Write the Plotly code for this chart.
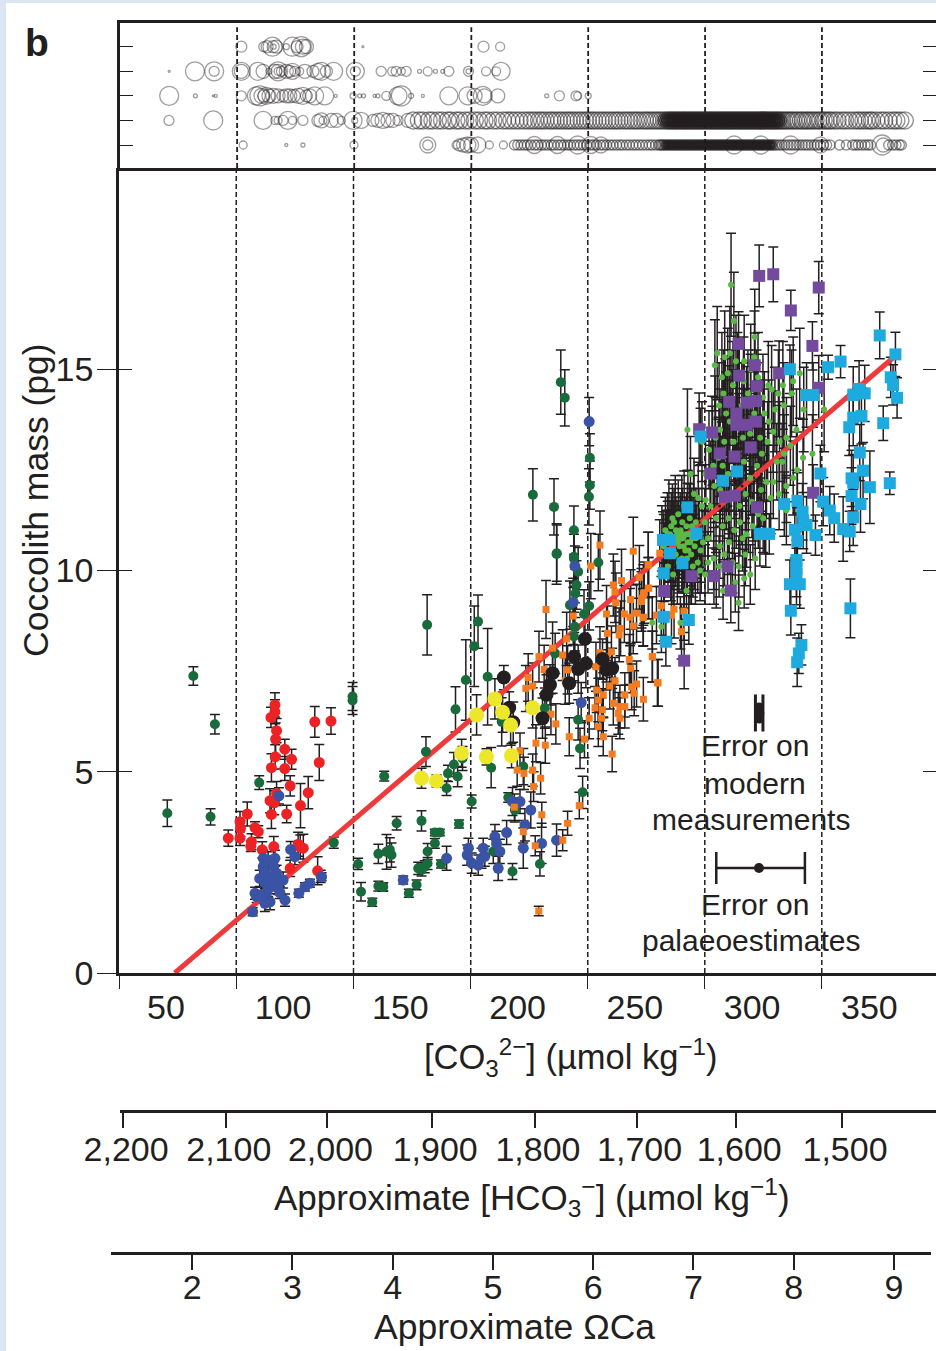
import plotly.graph_objects as go

# ---------- top panel: bubble rows (x = [CO3], s = bubble diameter) ----------
row5_x = [81.8,91.4,92.8,95.1,95.4,95.6,96.8,101,103.6,105.6,107.4,108.1,109.6,133.7,185.2,192.3]
row5_s = [11,10,12,19,12,5,13,6,19,12,20,15,14,2,11,9]
row4_x = [51,62,70.2,70.2,81.8,81.8,88.9,91.1,93.6,96.1,97.5,97.5,97.5,98.9,101,102.5,103.6,104.6,106.7,108.9,112.4,114.5,116,118.1,121.2,130.5,130.5,141.5,146.2,147.9,150.1,152.2,157.9,161.4,164.7,167.8,170.4,178.8,178.8,186.3,192.7,190.6]
row4_s = [2,19,19,10,18,14,18,14,6,14,19,14,8,10,14,12,16,10,8,14,12,16,18,12,18,18,10,10,9,10,8,10,4,9,4,4,10,10,5,9,18,9]
row3_x = [51,62.2,69.8,70.9,81.8,88.2,89.7,90.4,91.4,92.5,93.6,95.4,97.5,99.6,101,102.5,104.2,106,108.1,109.6,111,113.1,117.4,122.1,129.5,132.3,134,138.7,140.1,143.7,148.7,150.1,154.3,159.3,170.4,178.5,181.4,184.9,185.6,191.3,212.2,217.6,224.7,225.4,229.9]
row3_s = [19,4,2,3,10,18,20,15,12,17,14,15,14,12,14,14,13,15,17,12,14,18,18,3,6,4,4,3,4,9,18,20,5,3,18,18,15,19,14,14,4,10,10,8,6]
row2_x = [50.9,69.8,91.1,96.1,97.5,99.6,101.7,103.6,108.1,114.5,116,116.7,120.2,122.4,124.5,129.5,130.2,133,138,140.1,142.3,144.4,146.5,148.7,152.9]
row2_s = [10,19,18,8,8,10,18,8,10,12,15,8,14,14,8,18,6,16,12,14,16,14,14,10,14]
row2_band = [155.2,157.6,159.3,161.8,163.4,165.7,167.5,169.9,171.2,173.6,175.1,177.4,179.2,181.5,183.3,185.6,187.1,189.4,191.2,193.5,195.3,197.1,198.9,200.6,202.5,204.2,205.8,207.3,208.9,210.2,211.7,213.4,214.6,216.1,217.5,218.8,220.4,221.6,222.9,224.3,225.8,227.1,228.6,229.8,231.2,232.4,233.9,235.3,236.7,238.1,239.4,240.8,242.1,243.3,244.9,246.2,247.5,248.9,250.2,251.3,252.8,254.1,255.2,256.4,257.7,258.9,260.1,261.2,262.4,263.3,264.1,264.9,265.6,266.4,267.1,267.9,268.5,269.3,270.1,270.8,271.4,272.2,272.9,273.7,274.3,275.1,275.8,276.6,277.2,278,278.7,279.5,280.1,280.9,281.6,282.3,283,283.8,284.4,285.2,285.9,286.7,287.3,288.1,288.8,289.5,290.2,290.9,291.6,292.4,293,293.8,294.5,295.2,295.9,296.6,297.3,298.1,298.7,299.5,300.2,300.9,301.6,302.4,303,303.8,304.5,305.2,305.9,306.7,307.3,308.1,308.8,309.6,310.3,311,311.8,312.7,313.5,314.6,315.4,316.5,317.4,318.6,319.5,320.8,321.6,322.9,323.7,324.8,325.9,327,328.2,329.1,330.4,331.3,332.6,333.5,335.1,336.4,338.2,339.6,341.3,343.1,344.7,345.9,347.4,348.8,350.2,351.1,352.9,354.8,356.3,358.2,360.1,361.5,363.2,365.1]
row2_band_size = 17
row2_core_sizes = [13, 9, 5]
row1_x = [82.6,101,108.1,129.9,161.4,161.4,173.5,174.9,176.7,178.5,179.9,182.8,187.7,193.7,206.9,216.8,225.4,231,235.3,292.2,303.6,316.3,329.1,355.4,355.9]
row1_s = [8,3,4,8,16,10,8,12,14,16,15,16,8,8,17,17,18,17,16,18,18,18,16,20,14]
row1_band = [198.4,199.8,201.2,202.6,203.9,205.4,207.1,208.3,209.9,211.2,212.6,214.1,215.3,216.9,218.2,219.6,221.1,222.3,223.8,225.2,226.5,227.9,229.3,230.8,232.1,233.4,235,236.3,237.7,239.2,240.5,242,243.4,244.6,246.2,247.5,249,250.3,251.7,253.1,254.6,256,257.2,258.7,260,260.6,261.3,261.9,262.6,263.2,263.9,264.5,265.2,265.8,266.5,267.1,267.8,268.4,269.1,269.7,270.4,271,271.7,272.3,273,273.6,274.3,274.9,275.6,276.2,276.9,277.5,278.2,278.8,279.5,280.1,280.8,281.4,282.1,282.7,283.4,284,284.7,285.3,286,286.6,287.3,287.9,288.6,289.2,289.9,290.5,291.2,291.8,292.5,293.1,293.8,294.4,295.1,295.7,296.4,297,297.7,298.3,299,299.6,300.3,300.9,301.6,302.2,302.9,303.5,304.2,304.8,305.5,306.1,306.8,307.4,308.1,308.7,309.5,310.4,311.6,312.7,313.9,315.2,316.5,317.6,318.8,320,321.3,322.6,323.7,325.1,326.4,327.6,329,330.3,331.7,333.2,337.2,340.1,342.8,344,345.2,346.6,348.1,349.3,350.5,358.2,359.9,361.3,362.8,363.6]
row1_band_size = 10
row1_core_sizes = [7, 4]

# ---------- main panel: (x, y, error) per series ----------
dark_green = [(61.7,7.38,.23),(70.9,6.18,.24),(50.6,3.97,.33),(69.05,3.88,.2),(89.8,4.73,.17),(121.6,3.24,.14),(129.6,6.87,.35),(129.6,6.77,.35),(143.1,4.89,.12),(132,2.71,.14),(133.2,2.02,.23),(138,1.76,.1),(140.6,2.96,.24),(144.1,3.01,.43),(140.6,2.16,.12),(142.7,2.14,.1),(116,2.4,.15),
(161.4,8.65,.75),(183.1,8.73,.66),(181.5,8.12,1.0),(177.9,7.28,1.0),(187.2,7.36,1.2),(173.5,6.55,.56),(193.2,6.24,.6),(160.9,5.5,.37),(172.8,5.18,.3),(176.5,5.33,.3),(170.3,4.96,.2),(174.4,4.88,.25),(169.7,4.59,.18),(188.7,5.1,.5),(180.4,4.26,.16),(175,3.7,.1),(148.4,3.72,.17),(159,3.78,.25),(164.7,3.49,.08),(166.8,3.49,.08),(164.7,3.22,.12),(145.5,3.06,.3),(146.2,2.93,.3),(161.6,3.02,.2),(157.6,2.6,.15),(159,2.56,.15),(160.4,2.64,.15),(161.6,2.72,.15),(167.3,2.71,.1),(156.9,2.19,.12),(153.6,1.98,.1),(142.4,2.13,.1),(202.4,5.13,.45),(196,4.36,.12),(198.8,4.05,.3),(189.6,3.02,.3),(197.8,2.52,.2),(209.5,2.71,.3),(211.6,6.58,.5),(216,7.94,.5),(216.6,10.41,.75),(224,10.34,.65),(225.8,9.97,.6),(225.1,9.64,.6),(224.6,9.43,.6),(222.3,9.14,.6),(230.5,9.12,.6),(228.3,8.92,.6),(234.4,10.2,.7),(224.4,8.6,.6),(224,8.36,.6),(225.8,6.29,.5),(226.6,5.58,.5),(227.7,4.49,.4),(218.4,14.68,.8),(220.1,14.29,.7),(206.5,11.88,.65),(215.5,11.58,.7),(230.8,12.8,.6),(230.8,12.12,.6),(230.4,11.83,.7),(224,11,.6),(216.7,10.43,.7),(224,10.3,.6)]
blue = [(224.4,10.11,.5),(223.7,9.21,.6),(227.1,6.72,.5),(169.7,2.85,.3),(151.2,2.31,.1),(179,3.1,.25),(178.5,2.93,.25),(180.4,2.73,.25),(183.2,2.68,.25),(184.6,2.85,.25),(185.3,3.1,.25),(186,2.9,.25),(190.3,3.39,.3),(191,3.22,.3),(192.4,3.02,.3),(195.3,3.49,.3),(191.7,2.6,.3),(197.8,4.26,.35),(201,4.26,.3),(205.6,4.05,.45),(203.1,3.68,.4),(202.4,3.1,.5),(210.2,3.22,.5),(216.6,3.3,.4),(230.5,13.7,.6),
(87,1.52,.1),(88,1.98,.15),(90,2.35,.2),(91.5,2.85,.2),(91.5,2.64,.2),(93.6,2.81,.2),(96.5,2.85,.2),(96,2.64,.2),(92.2,2.5,.15),(92.2,2.25,.15),(92.9,1.98,.2),(94.4,1.77,.2),(92.2,1.73,.2),(90.8,1.94,.2),(95.8,2.27,.2),(97.9,2.1,.15),(100,2.31,.2),(98.6,2,.15),(100.8,1.81,.15),(88.7,1.9,.15),(95,2.39,.2),(93.6,2.1,.2),(97.2,2.48,.2),(103.2,3.07,.2),(105,2.89,.2),(98.2,4.4,.2),(106.7,1.98,.1),(109.3,2.14,.1),(111.4,2.23,.1),(116.4,2.39,.1)]
red = [(96.5,6.66,.3),(96.5,6.49,.3),(94.8,6.35,.25),(97.2,6.02,.3),(96.8,5.81,.4),(113.5,6.24,.38),(120.4,6.26,.33),(100.7,5.56,.25),(103.6,5.31,.25),(96.6,5.37,.3),(95,5.1,.35),(100.7,5.08,.3),(115.4,5.23,.45),(103,4.65,.25),(110.7,4.48,.4),(97.2,4.46,.3),(94.4,4.28,.3),(96.2,4.23,.3),(107.4,4.16,.55),(95,3.94,.35),(101.5,3.95,.22),(84.7,3.95,.3),(81.6,3.76,.25),(81.8,3.59,.2),(88,3.61,.15),(89.4,3.51,.15),(76.6,3.35,.2),(81.6,3.35,.18),(86.5,3.26,.2),(86.2,3.15,.13),(91.1,3.06,.2),(96,3.14,.25),(106.4,3.2,.3),(108.6,3.1,.35),(107.3,3.13,.3),(103,2.6,.2),(114.7,2.54,.35)]
yellow = [(159,4.84,.25),(165.4,4.77,.15),(176.1,5.46,.35),(186.7,5.37,.2),(197.4,5.4,.3),(182.5,6.41,.5),(190.3,6.81,.5),(193.6,6.48,.5),(206.4,6.59,.5),(197,6.16,.5)]
black = [(194.1,7.34,.3),(196.4,6.59,.4),(198.1,6.23,.5),(214.9,7.45,.5),(213.8,7.16,.5),(212.3,6.91,.5),(210.6,6.33,.5),(228.7,8.3,.6),(224.1,7.86,.6),(229.1,7.69,.6),(225.8,7.55,.6),(237.9,7.53,.5),(240.3,7.57,.5),(222,7.2,.5),(236.2,7.8,.5)]
orange = [(235.1,10.63),(249.3,10.48),(255.7,10.14),(231.2,10.11),(212.1,9.03),(244.3,9.75),(240.8,9.64),(241.5,9.47),(251.9,9.83),(255.7,9.56),(253.6,9.39),(248.2,9.28),(252.8,9.23),(241.9,9.2),(223.7,8.87),(237.9,8.92),(245.5,8.92),(250.7,8.94),(247.9,8.84),(253.6,8.84),(249.3,8.62),(243.9,8.56),(238.3,8.44),(243.3,8.4),(220.9,8.3),(214.9,8.07),(209.1,7.86),(219.2,7.9),(235.1,7.96),(237.9,7.86),(240,7.98),(257.5,7.86),(247.6,7.79),(248.2,7.57),(211.3,7.54),(221.3,7.53),(204.5,7.34),(220.3,7.26),(203.5,7.07),(206.4,7.13),(233.4,7.61),(259.9,7.21),(250.7,7.18),(239.3,7.13),(241.5,7.26),(248.6,7.11),(249.7,6.95),(245.7,6.91),(253.6,6.8),(233.7,7.03),(236.5,6.91),(234.4,6.78),(233,6.59),(236.1,6.54),(240.8,6.7),(243.6,6.62),(245.7,6.62),(242.9,6.45),(243.6,6.33),(230.5,6.33),(214.2,6.43),(216.3,6.19),(235.8,6.33),(234.4,6.12),(236.5,5.87),(222,5.87),(228.5,5.81),(207.8,5.71),(211.8,5.66),(201,5.52),(240.3,5.44),(199.8,5.04),(202.7,4.96),(206.4,5.04),(209.8,4.84),(206.8,4.63),(198.6,4.12),(226.3,4.16),(210.3,3.93),(221.3,3.72),(202.4,3.51),(219.2,3.3),(207.5,3.16),(209,1.54),(260.6,10.43),(255.7,10.14),(252.8,9.31),(254,9.45),(255.9,9.56),(261.3,9.12),(253.5,8.83),(259.2,8.89),(265.6,8.89),(266.7,9.04),(270.9,8.99),(269.9,8.48),(257.4,7.86),(259.6,7.21)]
orange_err_frac = 0.08
lime = [(261.5,10.8),(262.3,10.6),(263,11),(264,10.9),(264.8,10.5),(265.5,11.1),(266,10.7),(266.7,11.2),(267.4,10.4),(268,10.9),(268.5,11.4),(269,10.6),(269.5,11),(270,10.3),(270.5,10.8),(271,11.6),(271.5,10.5),(272,11.1),(272.5,10.7),(273,10.9),(273.4,11.3),(274,10.4),(274.5,10.8),(275,11),(275.5,10.6),(276,11.2),(276.8,10.2),(277.5,10.9),(278,10.5),(279,10.7),(263.5,10.7),(265,10.9),(266.5,10.5),(268.2,10.7),(269.7,10.9),(271.2,10.2),(272.8,10.5),(274.3,11.1),(276,10.8),(267.5,11),(270.2,11.2),(272.2,10.3),(274.7,10.1),(266,11.3),(268.8,10.2),(271.6,10.9),(273.6,10.7),(270.8,10.6),(269.2,10.8),(267.1,10.8),(279.8,11.2),(278.6,11.6),(277,11.8),(275.2,11.9),(264.1,10.1),(266.3,9.9),(273.5,9.9),(275.8,9.9),(277.8,10),
(291,17.1),(292.2,16.2),(301.1,15.8),(285.1,15.4),(284.1,15.1),(301,15.3),(320.3,14.9),(316.8,14.4),(317.5,14.7),(322,14),(330.7,14),(272.4,13.5),(313.5,14.1),(309.7,14),(309,13.45),(318.9,13.5),(314.6,13.3),(321.7,12.8),(325.7,12.9),(317.5,12.3),(309,12.2),(314.6,12.1),(273.7,12.4),(280.2,11.75),(294.2,9.2),(287.6,9.5),(294.3,10.1),(290.2,10.7),(281.2,10.8),(286.2,10.6),(281.2,10.2),(304.7,11.3),(295.9,10.8),(314.6,11.5),(272,9.5),(269.4,8.7),(261.3,8.6),(257.4,8.7),
(288.3,15.3),(290.5,15.4),(293.1,15.2),(296.6,15.2),(299.4,15),(287.1,14.8),(289.6,14.9),(291.8,14.6),(296.3,14.7),(298.2,14.4),(302.5,14.8),(304.6,14.3),(306.9,14.6),(305.2,13.9),(300.9,13.9),(285.9,14.1),(287.8,14.4),(288.9,13.9),(286.3,13.5),(284.4,13.3),(288.1,13.2),(290.5,13.7),(292.1,13.2),(295.6,14.1),(296.1,13.3),(299.1,13.4),(303.4,13.3),(304.1,12.9),(306.6,13.2),(302.1,12.6),(299.2,12.3),(296.5,12.7),(294.1,12.4),(289.7,12.4),(287.4,12.6),(285.6,12.8),(283.4,12.6),(281.6,13),(278.6,13.2),(280.1,12.4),(283.9,12.1),(286.4,12),(290.3,11.8),(294.6,11.6),(297.2,11.9),(299.9,11.7),(303.8,12),(306.1,12.2),(307.9,11.8),(310.5,12.7),(311.7,13.2),(312.8,12.7),(282.3,11.6),(284.6,11.3),(287.4,11.1),(289.9,11.3),(292.4,11),(294.8,11.2),(297.6,10.9),(300.3,11.1),(302.6,11.4),(305.8,10.9),(283.6,10.3),(285.9,10.1),(288.2,10.4),(291.6,10.2),(297.1,10.4),(301.3,10.3),(299.2,9.9),(296.6,9.8),(292.8,9.7),(284.7,9.8),(279.9,9.9),(307.1,13.7),(308.3,14.5),(311.2,14.4),(313.1,14.6),(311.5,11.9),(316.3,13.1),(319.2,12.5),(313.6,12.9)]
lime_err_frac = 0.075
# further measurements hidden in the black mass of whiskers
hidden = [(288.6,14.2),(289.4,13.4),(290.1,12.9),(291,14.4),(291.7,13.9),(292.3,12.2),(293,13.1),(293.7,14.8),(294.4,13.4),(295,12.9),(295.7,12.1),(296.2,14.1),(296.9,13.5),(297.5,12.4),(298.1,13.9),(298.8,12.8),(299.3,14.3),(300,13.2),(300.7,12.3),(301.3,13.6),(302,14.1),(302.7,12.9),(303.3,13.7),(304,12.4),(304.7,13.5),(305.3,12.7),(286,13.1),(286.8,12.4),(287.5,13.8),(288.2,12.2),(285.1,12.4),(284.2,13.8),(283.1,13.1),(282.2,12.2),(289,11.9),(291,11.6),(293.2,11.4),(295.6,11.5),(298.4,11.3),(300.8,11.6),(303.3,11.8),(286.1,11.6),(283.6,11.2),(262.7,10.4),(263.9,11.1),(264.9,10.7),(265.8,10.3),(266.6,10.9),(267.6,10.7),(268.4,10.3),(269.3,11.1),(270.4,10.6),(271.4,11),(272.4,10.3),(273.2,10.8),(274.2,11.2),(275.3,10.3),(276.2,10.5),(277.3,11.2),(278.3,10.2),(264.5,11.4),(267.2,11.5),(270,11.5),(272.6,11.6),(275,11.5),(265.3,10),(268.1,9.9),(271,9.8)]
hidden_err_frac = 0.075
purple = [(303,17.32,.77),(309,17.36,.68),(328.4,17.03,.65),(316.5,16.46,.5),(294.2,15.63,.8),(325.7,15.58,.6),(301.1,15.1,.8),(311.5,14.9,.8),(294.5,14.84,.9),(301.9,14.58,.9),(328.4,14.54,.8),(290.2,14.19,.9),(297.6,14.17,.9),(301.6,14.21,.9),(293.3,13.9,.9),(293.3,13.62,.9),(297.6,13.62,.9),(301.6,13.7,.9),(277.4,13.51,.9),(282.9,13.43,.9),(299.4,13.06,.9),(286.2,12.91,.9),(292.5,12.83,.9),(282.2,12.41,.8),(326,11.93,.7),(288.3,11.83,.8),(292.6,11.86,.8),(302.1,11.57,.7),(289.5,10.1,.7),(274.1,9.86,.7),(283.7,9.86,.7),(290.9,9.5,.8),(262.5,9.49,.7),(271,7.76,.7)]
cyan = [(354.4,15.84,.58),(361.1,15.37,.55),(332.4,15.05,.3),(337.7,15.19,.4),(316.1,15,.6),(359.1,14.8,.5),(360.1,14.61,.5),(343.1,14.36,.7),(345.6,14.51,.7),(348,14.4,.7),(323.2,14.36,.8),(326,14.36,.8),(361.8,14.29,.5),(343.1,13.8,.7),(346.6,13.84,.7),(341.4,13.56,.7),(355.9,13.66,.43),(278,13.33,.7),(345.9,12.93,.7),(347.3,12.48,.7),(329.1,12.41,.7),(342.4,12.29,.7),(343.1,12.18,.7),(350.2,12.07,.9),(358.7,12.17,.28),(293.6,12.46,.7),(287.6,12.23,.7),(272.4,11.57,.6),(313.7,11.65,.8),(319.3,11.73,.7),(321.5,11.46,.7),(321.8,11.24,.7),(323.2,11.13,.7),(318.2,11.01,.7),(327,10.88,.5),(319.3,10.73,.7),(342.4,11.85,.7),(346.2,11.65,.7),(343.1,11.32,.7),(330.3,11.71,.6),(333.1,11.49,.6),(335,11.3,.6),(338.8,11.03,.8),(341.6,10.97,.5),(303.3,10.91,.8),(307.3,10.91,.5),(305.3,10.91,.5),(264.9,10.76,.7),(276.3,10.92,.7),(262,10.76,.7),(264.9,10.43,.7),(270.3,10.18,.7),(262.3,9.93,.7),(318.9,10.26,.7),(318.9,10.05,.7),(318.9,9.85,.7),(316.1,9.66,.6),(320.3,9.66,.6),(316.5,9,.6),(341.9,9.06,.73),(262.3,8.85,.6),(273,8.77,.6),(263.2,8.23,.6),(321,8.15,.5),(319.9,7.94,.5),(319.2,7.72,.6)]

line_x = [53.8, 360]
line_y = [0, 15.28]
modern_err = [(301.4,6.46,.46),(304.6,6.46,.46)]
modern_core_x = [303, 303, 303]
modern_core_y = [6.3, 6.46, 6.62]
palaeo_err = (302.9,2.61,19.6,18.2)

co3_label_vals = [50,100,150,200,250,300,350]
co3_mark_vals = [30,80,130,180,229.9,279.8,329.7]
dashed_vals = [80,130,180,229.9,279.8,329.7]
mass_ticks = [0,5,10,15]
row_ticks = [1,2,3,4,5]
hco3_vals = [2200,2100,2001,1899,1799,1700,1603,1500]
hco3_text = ["2,200","2,100","2,000","1,900","1,800","1,700","1,600","1,500"]
omega_vals = [2,3,4,5,6,7,8,9]

INK = "#231f20"
FONT = "Liberation Sans"
W, H = 936, 1351
fx = lambda p: p / W
fy = lambda p: 1 - p / H

fig = go.Figure()

# bubble rows
def rings(xs, y, sizes, width=1.3, alpha=0.62):
    ring = f"rgba(35,31,32,{alpha})"
    fig.add_trace(go.Scatter(x=xs, y=[y]*len(xs), xaxis="x2", yaxis="y2", mode="markers",
        marker=dict(symbol="circle-open", size=sizes, color=ring, line=dict(width=width, color=ring)),
        hoverinfo="skip", showlegend=False))
rings(row5_x, 5, row5_s)
rings(row4_x, 4, row4_s)
rings(row3_x, 3, row3_s)
rings(row2_x, 2, row2_s)
rings(row2_band, 2, [row2_band_size]*len(row2_band), 1.4, 0.7)
for s in row2_core_sizes:
    core = [v for v in row2_band if 262 < v < 312]
    rings(core, 2, [s]*len(core), 1.4, 0.85)
rings(row1_x, 1, row1_s)
rings(row1_band, 1, [row1_band_size]*len(row1_band), 1.4, 0.7)
for s in row1_core_sizes:
    core = [v for v in row1_band if 262 < v < 309]
    rings(core, 1, [s]*len(core), 1.4, 0.85)

# series
def with_err(pairs, frac):
    return [(x, y, round(y*frac, 2)) for x, y in pairs]
series = [
    (dark_green, "#1a6b3c", 10, "circle"),
    (red, "#ed2224", 11, "circle"),
    (blue, "#3a53a4", 11, "circle"),
    (with_err(orange, orange_err_frac), "#f47b20", 7, "square"),
    (black, INK, 14, "circle"),
    (yellow, "#ece72a", 15, "circle"),
    (with_err(hidden, hidden_err_frac), INK, 3, "circle"),
    (with_err(lime, lime_err_frac), "#5db947", 6, "circle"),
    (purple, "#734a9d", 12, "square"),
    (cyan, "#1eaadf", 12, "square"),
]
for data, color, size, sym in series:
    fig.add_trace(go.Scatter(x=[d[0] for d in data], y=[d[1] for d in data], mode="markers",
        marker=dict(size=size, color="rgba(0,0,0,0)"),
        error_y=dict(type="data", array=[d[2] for d in data], color=INK, thickness=1.5, width=5),
        hoverinfo="skip", showlegend=False))
fig.add_trace(go.Scatter(x=line_x, y=line_y, mode="lines", line=dict(color="#ee3a3a", width=5),
                         hoverinfo="skip", showlegend=False))
for data, color, size, sym in series:
    fig.add_trace(go.Scatter(x=[d[0] for d in data], y=[d[1] for d in data], mode="markers",
        marker=dict(size=size, color=color, symbol=sym), hoverinfo="skip", showlegend=False))

# error key
fig.add_trace(go.Scatter(x=[d[0] for d in modern_err], y=[d[1] for d in modern_err], mode="markers",
    marker=dict(size=3, color=INK),
    error_y=dict(type="data", array=[d[2] for d in modern_err], color=INK, thickness=3, width=0),
    hoverinfo="skip", showlegend=False))
fig.add_trace(go.Scatter(x=modern_core_x, y=modern_core_y, mode="markers", marker=dict(size=8, color=INK),
    hoverinfo="skip", showlegend=False))
fig.add_trace(go.Scatter(x=[palaeo_err[0]], y=[palaeo_err[1]], mode="markers",
    marker=dict(size=10, color=INK),
    error_x=dict(type="data", symmetric=False, array=[palaeo_err[2]], arrayminus=[palaeo_err[3]],
                 color=INK, thickness=2.5, width=16),
    hoverinfo="skip", showlegend=False))

# carriers that make the extra axes render
def carrier(x, y, xa, ya):
    fig.add_trace(go.Scatter(x=[x], y=[y], xaxis=xa, yaxis=ya, mode="markers",
                             marker=dict(size=1, opacity=0), hoverinfo="skip", showlegend=False))
carrier(200, 5, "x3", "y3")
carrier(200, 5, "x3", "y4")
carrier(1800, 5, "x4", "y")
carrier(5, 5, "x5", "y")

tick_font = dict(family=FONT, size=34, color=INK)
XR = [30, 378.4]
fig.update_layout(
    width=W, height=H, margin=dict(l=0, r=0, t=0, b=0, autoexpand=False), paper_bgcolor="#dce6f2",
    plot_bgcolor="rgba(0,0,0,0)", showlegend=False, font=dict(family=FONT, color=INK),
    xaxis=dict(domain=[fx(119), 1], range=XR, tickmode="array", tickvals=co3_label_vals,
               ticks="", tickfont=tick_font, showgrid=False, zeroline=False, showline=True,
               linecolor=INK, linewidth=3, anchor="y", ticklabelstandoff=2),
    yaxis=dict(domain=[fy(973), fy(168)], range=[0, 20], tickmode="array", tickvals=mass_ticks,
               ticks="outside", ticklen=19, tickwidth=1.2, tickcolor=INK, tickfont=tick_font,
               showgrid=False, zeroline=False, showline=True, linecolor=INK, linewidth=2.5,
               anchor="x", ticklabelstandoff=-3),
    xaxis2=dict(domain=[fx(120), 1], range=XR, showticklabels=False, ticks="", showgrid=False,
                zeroline=False, showline=True, linecolor=INK, linewidth=3, mirror=True, anchor="y2"),
    yaxis2=dict(domain=[fy(168), fy(23)], range=[0.064, 5.965], tickmode="array", tickvals=row_ticks,
                ticks="inside", ticklen=13, tickwidth=1.2, tickcolor=INK, showticklabels=False,
                showgrid=False, zeroline=False, showline=True, linecolor=INK, linewidth=2.5,
                mirror="ticks", anchor="x2"),
    xaxis3=dict(domain=[fx(119), 1], range=XR, overlaying="x", anchor="y3", tickmode="array",
                tickvals=co3_mark_vals, ticks="outside", ticklen=15, tickwidth=1.2, tickcolor=INK,
                showticklabels=False, showgrid=False, zeroline=False, side="bottom"),
    yaxis3=dict(domain=[fy(973), fy(168)], range=[0, 20], overlaying="y", anchor="x3", tickmode="array",
                tickvals=mass_ticks[1:], ticks="inside", ticklen=13, tickwidth=1.2, tickcolor=INK,
                showticklabels=False, showgrid=False, zeroline=False, side="left"),
    yaxis4=dict(domain=[fy(973), fy(168)], range=[0, 20], overlaying="y", anchor="x3", tickmode="array",
                tickvals=mass_ticks[1:], ticks="inside", ticklen=13, tickwidth=1.2, tickcolor=INK,
                showticklabels=False, showgrid=False, zeroline=False, side="right"),
    xaxis4=dict(domain=[fx(120), 1], range=[2203, 1408.5], anchor="free", position=fy(1111), tickmode="array",
                tickvals=hco3_vals, ticktext=hco3_text, ticks="outside", ticklen=15, tickwidth=2,
                tickcolor=INK, tickfont=tick_font, showgrid=False, zeroline=False, showline=True,
                linecolor=INK, linewidth=3, side="bottom", ticklabelstandoff=-8, ticklabelshift=-3),
    xaxis5=dict(domain=[fx(111), fx(931)], range=[1.19, 9.37], anchor="free", position=fy(1253), tickmode="array",
                tickvals=omega_vals, ticks="outside", ticklen=15, tickwidth=2, tickcolor=INK,
                tickfont=tick_font, showgrid=False, zeroline=False, showline=True, linecolor=INK,
                linewidth=3, side="bottom", ticklabelstandoff=-12),
)

# page and dashed guides
fig.add_shape(type="rect", xref="paper", yref="paper", x0=fx(6), x1=1, y0=0, y1=fy(3),
              fillcolor="white", line_width=0, layer="below")
for v in dashed_vals:
    fig.add_shape(type="line", xref="x", yref="y domain", x0=v, x1=v, y0=0, y1=1,
                  line=dict(color=INK, width=1.5, dash="5px,3px"), layer="below")
    fig.add_shape(type="line", xref="x2", yref="y2 domain", x0=v, x1=v, y0=0, y1=0.97,
                  line=dict(color=INK, width=1.8, dash="5px,3px"), layer="below")

def note(text, px, py, size, **kw):
    fig.add_annotation(text=text, xref="paper", yref="paper", x=fx(px), y=fy(py), showarrow=False,
                       xanchor="center", yanchor="middle", font=dict(family=FONT, size=size, color=INK), **kw)
note("<b>b</b>", 37, 42, 39)
note("Coccolith mass (pg)", 36, 500, 35.5, textangle=-90)
note("[CO<sub>3</sub><sup>2−</sup>] (µmol kg<sup>−1</sup>)", 571, 1057, 34.5)
note("Approximate [HCO<sub>3</sub><sup>−</sup>] (µmol kg<sup>−1</sup>)", 532, 1197, 35)
note("Approximate ΩCa", 514, 1327, 35.5)
note("Error on", 755, 746, 30)
note("modern", 755, 783, 30)
note("measurements", 751, 819, 30)
note("Error on", 755, 904, 30)
note("palaeoestimates", 751, 940, 30)

fig.write_html("out.html", post_script="document.body.style.margin='0';", config={"displayModeBar": False})
